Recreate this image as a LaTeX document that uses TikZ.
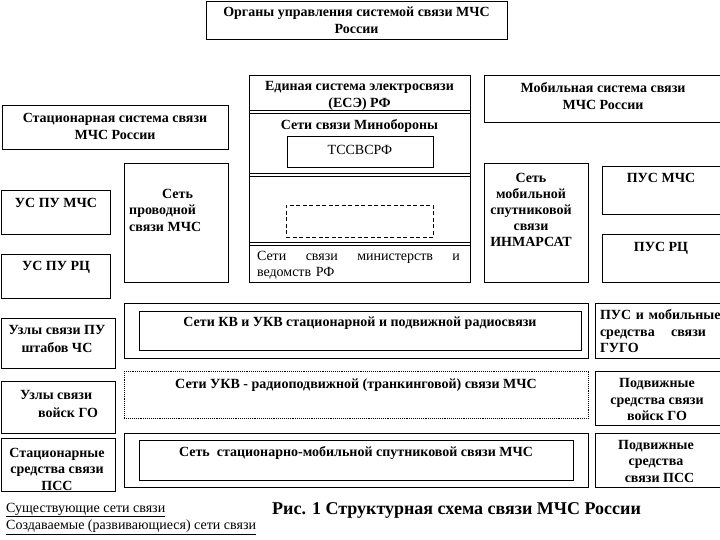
\documentclass[tikz,border=0pt]{standalone}
\usepackage{fontspec}
\setmainfont{Liberation Serif}
\newcommand\bxat[6]{\node[#6, anchor=north west, inner sep=0pt, minimum width={(#4-#2)*1pt}, minimum height={(#5-#3)*1pt}] (#1) at (#2,#3) {};}
\begin{document}
\begin{tikzpicture}[x=1pt,y=-1pt,
  bx/.style={draw, line width=0.7pt},
  dashbox/.style={draw, line width=0.7pt, dash pattern=on 4pt off 2.5pt},
  dotbox/.style={draw, line width=0.6pt, dash pattern=on 0.7pt off 1.2pt},
  tb/.style={font=\fontsize{14}{16.5}\selectfont\bfseries, inner sep=0pt, align=center},
  tr/.style={font=\fontsize{14}{16.5}\selectfont, inner sep=0pt},
  dline/.style={line width=0.7pt}
]
\useasboundingbox (0,0) rectangle (720,540);
\fill[white] (0,0) rectangle (720,540);

% boxes
\bxat{top}{206}{1}{507}{39}{bx}
\bxat{ese}{249}{75}{470}{282}{bx}
\bxat{tss}{287}{136}{433}{167}{bx}
\bxat{dsh}{286}{205}{433}{237}{dashbox}
\bxat{mob}{484}{75}{722}{122}{bx}
\bxat{stat}{2}{105}{228}{149}{bx}
\bxat{uspu}{1}{190}{110}{234}{bx}
\bxat{usrc}{1}{254}{110}{298}{bx}
\bxat{prov}{124}{163}{228}{282}{bx}
\bxat{inm}{484}{163}{588}{282}{bx}
\bxat{pusm}{602}{166}{722}{214}{bx}
\bxat{pusr}{602}{234}{722}{282}{bx}
\bxat{kvo}{124}{303}{588}{358}{bx}
\bxat{kvi}{139}{311}{581}{350}{bx}
\bxat{uzpu}{1}{318}{115}{368}{bx}
\bxat{gugo}{595}{303}{722}{358}{bx}
\bxat{ukv}{124}{371}{588}{418}{dotbox}
\bxat{uzgo}{1}{381}{115}{433}{bx}
\bxat{podgo}{595}{371}{722}{425}{bx}
\bxat{stpss}{1}{438}{115}{491}{bx}
\bxat{spo}{124}{433}{588}{487}{bx}
\bxat{spi}{139}{440}{573}{480}{bx}
\bxat{podpss}{595}{433}{722}{487}{bx}

% double dividers in ESE box
\coordinate (d1a) at (249,110); \coordinate (d1b) at (470,110);
\coordinate (d1c) at (249,113); \coordinate (d1d) at (470,113);
\coordinate (d2a) at (249,173); \coordinate (d2b) at (470,173);
\coordinate (d2c) at (249,176); \coordinate (d2d) at (470,176);
\coordinate (d3a) at (249,242); \coordinate (d3b) at (470,242);
\coordinate (d3c) at (249,245); \coordinate (d3d) at (470,245);
\draw[dline] (d1a) -- (d1b); \draw[dline] (d1c) -- (d1d);
\draw[dline] (d2a) -- (d2b); \draw[dline] (d2c) -- (d2d);
\draw[dline] (d3a) -- (d3b); \draw[dline] (d3c) -- (d3d);

% texts
\node[tb, font=\fontsize{14}{17}\selectfont\bfseries] (tTop) at (356.5,20.5) {Органы управления системой связи МЧС\\России};
\node[tb] (tEse) at (359.5,96) {Единая система электросвязи\\(ЕСЭ) РФ};
\node[tb] (tMin) at (359.5,126) {Сети связи Минобороны};
\node[tr] (tTss) at (360,150) {ТССВСРФ};
\node[tb] (tMob) at (603,96) {Мобильная система связи\\МЧС России};
\node[tb] (tStat) at (115,126.5) {Стационарная система связи\\МЧС России};
\node[tb] (tUspu) at (56,203) {УС ПУ МЧС};
\node[tb] (tUsrc) at (56,267) {УС ПУ РЦ};
\node[tb, align=left, anchor=west] (tProv) at (129,210) {\hspace*{33pt}Сеть\\проводной\\связи МЧС};
\node[tb, font=\fontsize{14}{16}\selectfont\bfseries] (tInm) at (531,210) {Сеть\\мобильной\\спутниковой\\связи\\ИНМАРСАТ};
\node[tb] (tPusm) at (661,178) {ПУС МЧС};
\node[tb] (tPusr) at (661,248) {ПУС РЦ};
\node[tr, text width=203pt, align=left, font=\fontsize{14}{16}\selectfont] (tVed) at (358.5,265) {Сети\hfill связи\hfill министерств\hfill и\\ведомств РФ};
\node[tb] (tKv) at (360,323) {Сети КВ и УКВ стационарной и подвижной радиосвязи};
\node[tb, font=\fontsize{14}{17.5}\selectfont\bfseries] (tUzpu) at (57,339) {Узлы связи ПУ\\штабов ЧС};
\node[tb, text width=106pt, align=left] (tGugo) at (653,331.5) {\mbox{ПУС и мобильные}\\средства\hfill связи\\ГУГО};
\node[tb] (tUkv) at (356,385) {Сети УКВ - радиоподвижной (транкинговой) связи МЧС};
\node[tb, align=left, anchor=west, font=\fontsize{14}{18}\selectfont\bfseries] (tUzgo) at (20,404) {Узлы связи\\\hspace*{18pt}войск ГО};
\node[tb] (tPodgo) at (657,399.5) {Подвижные\\средства связи\\войск ГО};
\node[tb] (tStpss) at (57,469) {Стационарные\\средства связи\\ПСС};
\node[tb] (tSp) at (356,453) {Сеть\ \ стационарно-мобильной спутниковой связи МЧС};
\node[tb] (tPodpss) at (656,461) {Подвижные\\средства\\\ \ связи ПСС};

% legend and caption
\node[tr, anchor=west] (lg1) at (6,510) {\underline{Существующие сети связи}};
\node[tr, anchor=west] (lg2) at (6,527) {\underline{Создаваемые (развивающиеся) сети связи}};
\node[inner sep=0pt, anchor=west, font=\fontsize{18}{20}\selectfont\bfseries] (cap) at (272,510) {Рис. 1 Структурная схема связи МЧС России};
\end{tikzpicture}
\end{document}
